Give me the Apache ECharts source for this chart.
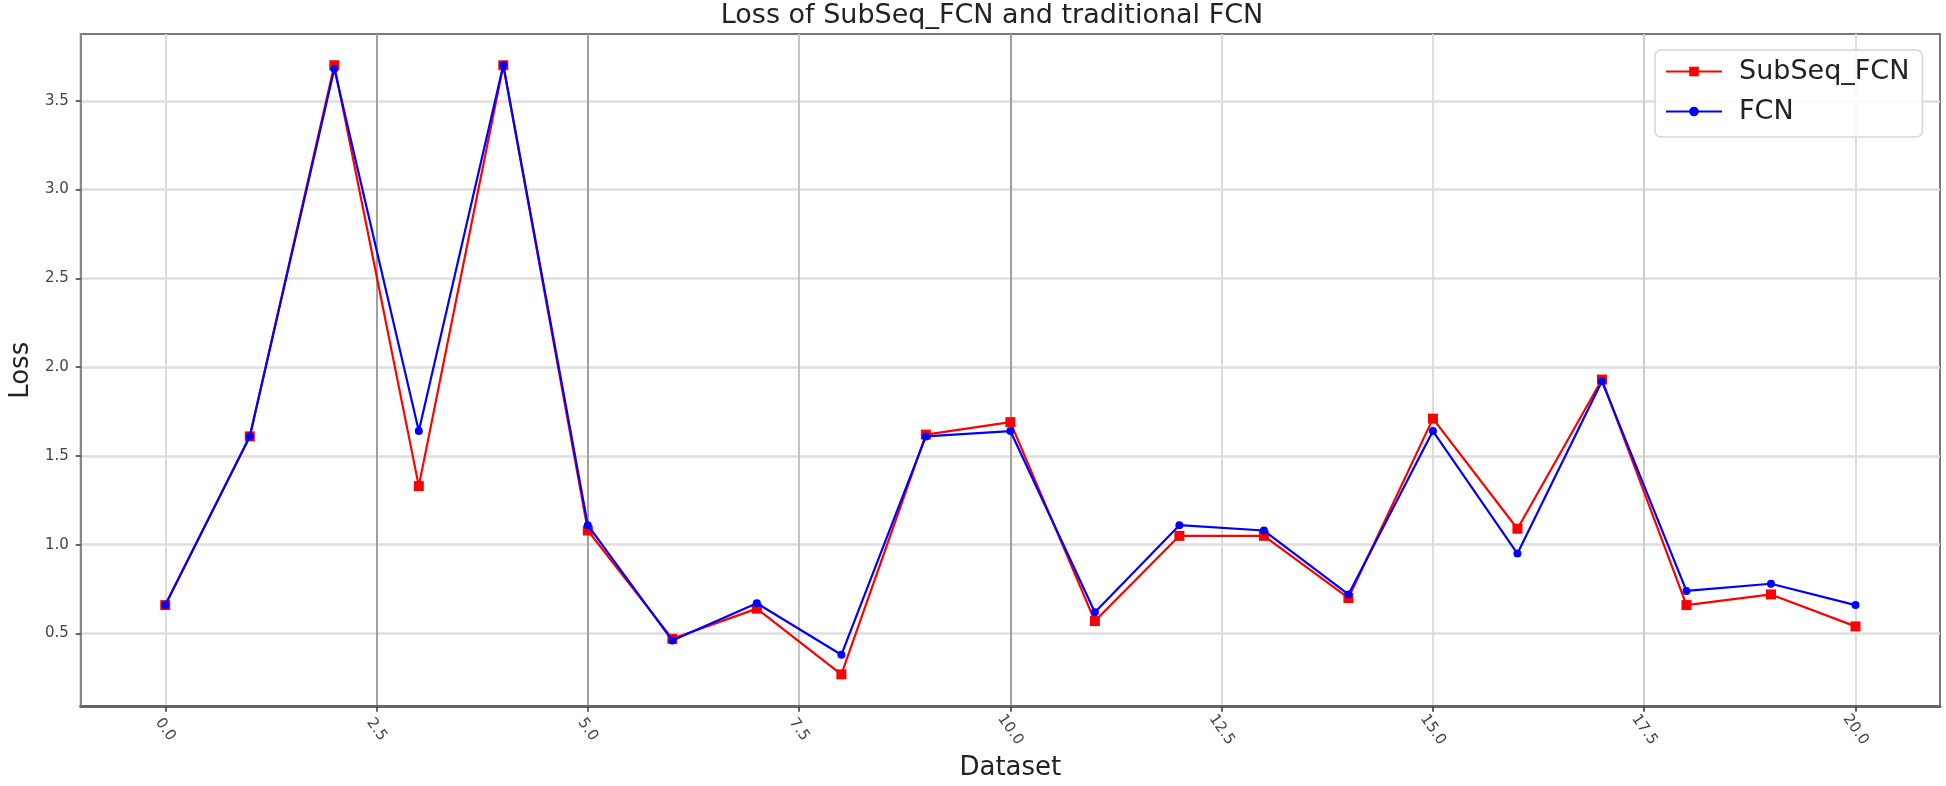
<!DOCTYPE html>
<html>
<head>
<meta charset="utf-8">
<script src="https://cdn.jsdelivr.net/npm/echarts@6/dist/echarts.min.js"></script>
<style>
html,body{margin:0;padding:0;background:#fff;}
#chart{width:1946px;height:786px;}
</style>
</head>
<body>
<div id="chart"></div>
<script>
// ---- data ----
const datasets = [0,1,2,3,4,5,6,7,8,9,10,11,12,13,14,15,16,17,18,19,20];
const subseqFCN = [0.66,1.61,3.70,1.33,3.70,1.08,0.47,0.64,0.27,1.62,1.69,0.57,1.05,1.05,0.70,1.71,1.09,1.93,0.66,0.72,0.54];
const fcn       = [0.66,1.61,3.68,1.64,3.70,1.11,0.46,0.67,0.38,1.61,1.64,0.62,1.11,1.08,0.72,1.64,0.95,1.92,0.74,0.78,0.66];
const xTicks = [0,2.5,5,7.5,10,12.5,15,17.5,20];
const yTicks = [0.5,1.0,1.5,2.0,2.5,3.0,3.5];
const seriesNames = ['SubSeq_FCN','FCN'];
const titleText = 'Loss of SubSeq_FCN and traditional FCN';
const xName = 'Dataset';
const yName = 'Loss';

const FONT = 'DejaVu Sans';
const chart = echarts.init(document.getElementById('chart'), null, {renderer:'canvas'});

const toPairs = (ys) => datasets.map((x,i) => [x, ys[i]]);

const option = {
  animation: false,
  backgroundColor: '#fff',
  title: {
    text: titleText,
    left: 992, top: 2, textAlign: 'center', padding: 0,
    textStyle: {fontFamily: FONT, fontSize: 27, fontWeight: 'normal', color: '#222'}
  },
  legend: {
    orient: 'vertical',
    left: 1655, top: 50,
    padding: [8, 13, 12, 10],
    itemWidth: 56, itemHeight: 12, itemGap: 13,
    backgroundColor: 'rgba(255,255,255,0.85)',
    borderColor: '#d6d6d6', borderWidth: 1.5, borderRadius: 6,
    textStyle: {fontFamily: FONT, fontSize: 27, color: '#222', padding: [0,0,0,12]},
    data: seriesNames
  },
  grid: {
    left: 71, right: 6, top: 34, bottom: 77,
    show: true, borderColor: '#777', borderWidth: 2, containLabel: false
  },
  xAxis: {
    type: 'value', min: -1, max: 21,
    name: xName, nameLocation: 'middle', nameGap: 46,
    nameTextStyle: {fontFamily: FONT, fontSize: 26, color: '#222'},
    axisLine: {show: true, onZero: false, lineStyle: {color: '#666', width: 3}},
    axisTick: {show: true, customValues: xTicks, length: 5, lineStyle: {color: '#333', width: 1.5}},
    axisLabel: {
      customValues: xTicks, rotate: -55, margin: 23, align: 'center', verticalAlign: 'middle',
      fontFamily: FONT, fontSize: 15, color: '#444',
      formatter: v => v.toFixed(1)
    },
    splitLine: {show: true, lineStyle: {
      color: ['#dcdcdc','#a0a0a0','#a0a0a0','#c4c4c4','#a0a0a0','#dcdcdc','#dcdcdc','#cccccc','#dcdcdc'],
      width: 2}}
  },
  yAxis: {
    type: 'value', min: 0.088, max: 3.876,
    name: yName, nameLocation: 'middle', nameGap: 44, nameRotate: 90,
    nameTextStyle: {fontFamily: FONT, fontSize: 26, color: '#222'},
    axisLine: {show: true, onZero: false, lineStyle: {color: '#888', width: 2}},
    axisTick: {show: true, customValues: yTicks, length: 5, lineStyle: {color: '#333', width: 1.5}},
    axisLabel: {
      customValues: yTicks, margin: 12,
      fontFamily: FONT, fontSize: 15, color: '#444',
      formatter: v => v.toFixed(1)
    },
    splitLine: {show: true, lineStyle: {color: '#dedede', width: 2.5}}
  },
  series: [
    {
      name: seriesNames[0], type: 'line', data: toPairs(subseqFCN),
      symbol: 'rect', symbolSize: 10, showAllSymbol: true,
      lineStyle: {color: '#ff0000', width: 2.2},
      itemStyle: {color: '#ff0000'},
      z: 3
    },
    {
      name: seriesNames[1], type: 'line', data: toPairs(fcn),
      symbol: 'circle', symbolSize: 8, showAllSymbol: true,
      lineStyle: {color: '#0000ff', width: 2.2},
      itemStyle: {color: '#0000ff'},
      z: 4
    }
  ]
};
chart.setOption(option);
</script>
</body>
</html>
